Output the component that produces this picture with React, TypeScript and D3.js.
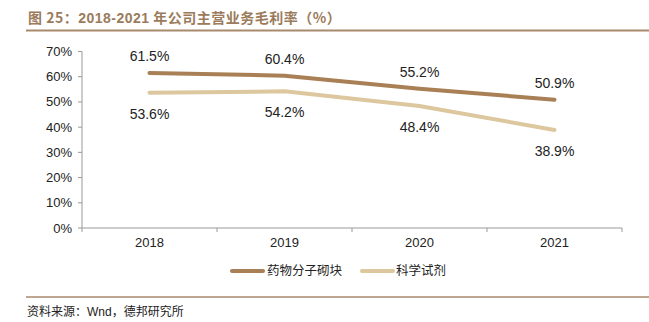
import React from "react";
import * as d3 from "d3";

const categories = ["2018", "2019", "2020", "2021"];
const seriesNames = ["药物分子砌块", "科学试剂"];
const seriesA = [61.5, 60.4, 55.2, 50.9];
const seriesB = [53.6, 54.2, 48.4, 38.9];
const yTicks = [0, 10, 20, 30, 40, 50, 60, 70];

const W = 649, H = 322;
const colors = ["#a97f55", "#dcc79e"];

export default function App() {
  const x = d3.scaleBand<string>().domain(categories).range([82, 622]);
  const y = d3.scaleLinear().domain([0, 70]).range([228, 51.5]);
  const line = d3
    .line<number>()
    .x((_, i) => (x(categories[i]) as number) + x.bandwidth() / 2)
    .y((d) => y(d));
  const font = "Liberation Sans, Arial, sans-serif";
  const cjk = "'Noto Sans CJK SC', sans-serif";
  const bounds = [...categories.map((c) => x(c) as number), 622];
  return (
    <svg width={W} height={H} style={{ position: "absolute", left: 0, top: 0, background: "#fff" }}>
      <text x={28} y={23} fontFamily={cjk} fontWeight="bold" fontSize={14} letterSpacing={0.5} fill="#9b7b5b">
        图 25：<tspan fontFamily={font}>2018-2021</tspan> 年公司主营业务毛利率（%）
      </text>
      <line x1={26} x2={649} y1={30.5} y2={30.5} stroke="#a88a6c" strokeWidth={2} />
      {/* y axis */}
      <line x1={82} x2={82} y1={51.5} y2={228} stroke="#999" />
      {yTicks.map((t) => (
        <g key={t}>
          <line x1={78} x2={82} y1={y(t)} y2={y(t)} stroke="#999" />
          <text x={72} y={y(t)} dy="0.35em" textAnchor="end" fontFamily={font} fontSize={13} fill="#222">
            {t}%
          </text>
        </g>
      ))}
      {/* x axis */}
      <line x1={82} x2={622} y1={228} y2={228} stroke="#999" />
      {bounds.map((b, i) => (
        <line key={i} x1={b} x2={b} y1={228} y2={232} stroke="#999" />
      ))}
      {categories.map((c) => (
        <text key={c} x={(x(c) as number) + x.bandwidth() / 2} y={247} textAnchor="middle" fontFamily={font} fontSize={13} fill="#222">
          {c}
        </text>
      ))}
      <path d={line(seriesA) || ""} fill="none" stroke={colors[0]} strokeWidth={4} strokeLinecap="round" />
      <path d={line(seriesB) || ""} fill="none" stroke={colors[1]} strokeWidth={4} strokeLinecap="round" />
      {seriesA.map((v, i) => (
        <text key={"a" + i} x={(x(categories[i]) as number) + x.bandwidth() / 2} y={y(v) - 17} dy="0.35em" textAnchor="middle" fontFamily={font} fontSize={14} fill="#222">
          {v.toFixed(1)}%
        </text>
      ))}
      {seriesB.map((v, i) => (
        <text key={"b" + i} x={(x(categories[i]) as number) + x.bandwidth() / 2} y={y(v) + 21} dy="0.35em" textAnchor="middle" fontFamily={font} fontSize={14} fill="#222">
          {v.toFixed(1)}%
        </text>
      ))}
      {/* legend */}
      <line x1={232} x2={263} y1={271} y2={271} stroke={colors[0]} strokeWidth={4} strokeLinecap="round" />
      <text x={267} y={271} dy="0.35em" fontFamily={cjk} fontSize={12.5} fill="#222">{seriesNames[0]}</text>
      <line x1={362} x2={393} y1={271} y2={271} stroke={colors[1]} strokeWidth={4} strokeLinecap="round" />
      <text x={396} y={271} dy="0.35em" fontFamily={cjk} fontSize={12.5} fill="#222">{seriesNames[1]}</text>
      <line x1={26} x2={649} y1={297} y2={297} stroke="#a88a6c" strokeWidth={1.5} />
      <text x={27} y={312} dy="0.35em" fontFamily={cjk} fontSize={12} fill="#222">
        资料来源：<tspan fontFamily={font}>Wnd</tspan>，德邦研究所
      </text>
    </svg>
  );
}
